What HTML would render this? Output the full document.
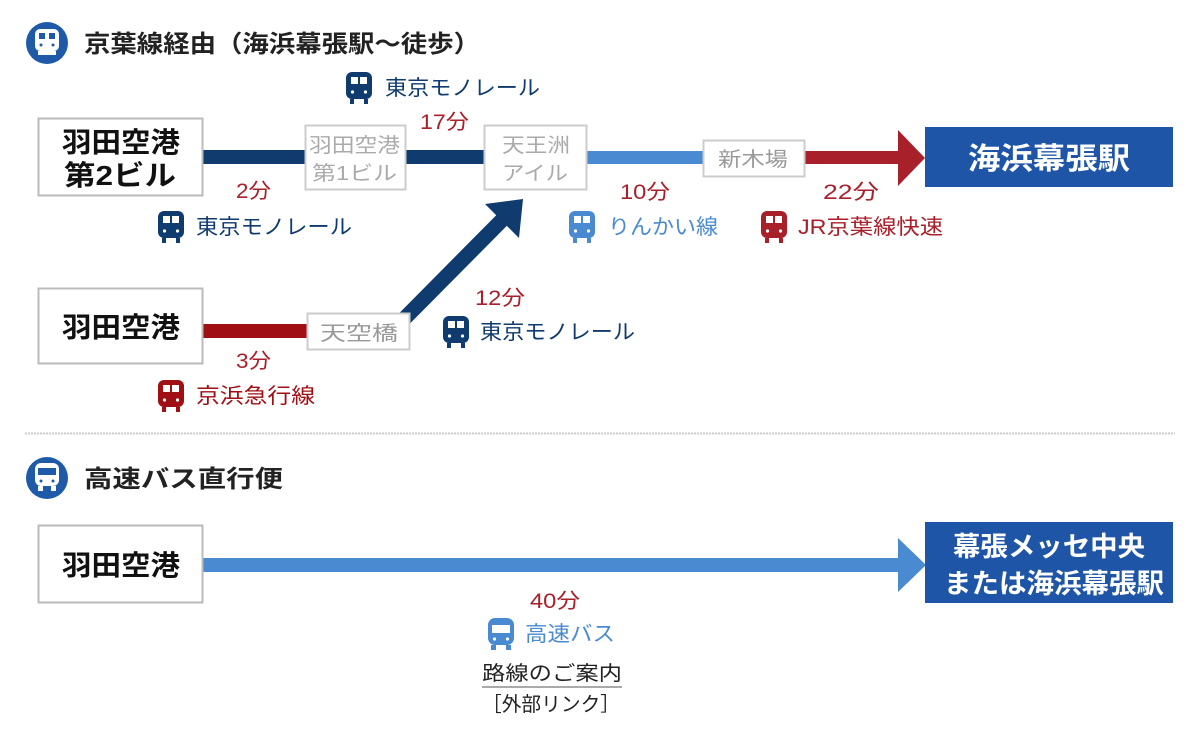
<!DOCTYPE html>
<html><head><meta charset="utf-8"><style>
html,body{margin:0;padding:0;background:#fff;width:1200px;height:735px;overflow:hidden}
svg{display:block}
text{font-family:"Liberation Sans","Noto Sans CJK JP",sans-serif}
</style></head><body>
<svg width="1200" height="735" viewBox="0 0 1200 735" xmlns="http://www.w3.org/2000/svg">
<defs>
<symbol id="tr" viewBox="0 0 26 32">
<rect x="0" y="0" width="26" height="27" rx="6"/>
<rect x="4" y="27" width="4" height="5"/><rect x="18" y="27" width="4" height="5"/>
<rect x="5" y="5" width="7" height="7" fill="#fff"/><rect x="14" y="5" width="7" height="7" fill="#fff"/>
<circle cx="6.5" cy="20" r="1.6" fill="#fff"/><circle cx="19.5" cy="20" r="1.6" fill="#fff"/>
</symbol>
<symbol id="bus" viewBox="0 0 26 32">
<rect x="0" y="0" width="26" height="27" rx="7"/>
<rect x="3" y="27" width="5" height="5"/><rect x="18" y="27" width="5" height="5"/>
<rect x="4" y="7" width="18" height="8" fill="#fff"/>
<circle cx="6.5" cy="21" r="1.6" fill="#fff"/><circle cx="19.5" cy="21" r="1.6" fill="#fff"/>
</symbol>
</defs>

<!-- header 1 -->
<circle cx="47" cy="43" r="21" fill="#1f5aa8"/>
<rect x="35" y="29" width="24" height="22" rx="5" fill="#fff"/>
<rect x="39" y="33" width="6" height="6" fill="#1f5aa8"/><rect x="49" y="33" width="6" height="6" fill="#1f5aa8"/>
<circle cx="41" cy="45" r="1.5" fill="#1f5aa8"/><circle cx="53" cy="45" r="1.5" fill="#1f5aa8"/>
<rect x="38" y="51" width="18" height="4" fill="#fff"/>
<text x="84" y="52" font-size="24" font-weight="bold" fill="#222" textLength="396" lengthAdjust="spacingAndGlyphs">京葉線経由（海浜幕張駅～徒歩）</text>

<!-- lines top -->
<rect x="203" y="150" width="102" height="14" fill="#0f3b6e"/>
<rect x="406" y="150" width="78" height="14" fill="#0f3b6e"/>
<rect x="587" y="151" width="116" height="13" fill="#4a8ad0"/>
<rect x="805" y="151" width="95" height="13" fill="#a8202a"/>
<polygon points="898,130 925,158 898,186" fill="#a8202a"/>

<!-- boxes top -->
<rect x="38.5" y="118.5" width="164" height="77" fill="#fff" stroke="#bbb" stroke-width="2"/>
<text x="62" y="152" font-size="28" font-weight="bold" fill="#111" textLength="118" lengthAdjust="spacingAndGlyphs">羽田空港</text>
<text x="64" y="185" font-size="28" font-weight="bold" fill="#111" textLength="112" lengthAdjust="spacingAndGlyphs">第2ビル</text>
<rect x="305.5" y="125.5" width="100" height="64" fill="#fff" stroke="#ccc" stroke-width="2"/>
<text x="309" y="152" font-size="20" fill="#aaa" textLength="91" lengthAdjust="spacingAndGlyphs">羽田空港</text>
<text x="312" y="180" font-size="20" fill="#aaa" textLength="85" lengthAdjust="spacingAndGlyphs">第1ビル</text>
<rect x="484.5" y="125.5" width="102" height="64" fill="#fff" stroke="#ccc" stroke-width="2"/>
<text x="502" y="152" font-size="20" fill="#aaa" textLength="68" lengthAdjust="spacingAndGlyphs">天王洲</text>
<text x="502" y="180" font-size="20" fill="#aaa" textLength="66" lengthAdjust="spacingAndGlyphs">アイル</text>
<rect x="703.5" y="140.5" width="101" height="36" fill="#fff" stroke="#ccc" stroke-width="2"/>
<text x="718" y="166" font-size="20" fill="#999" textLength="70" lengthAdjust="spacingAndGlyphs">新木場</text>
<rect x="925" y="127" width="248" height="60" fill="#1f55a6"/>
<text x="968" y="169" font-size="30" font-weight="bold" fill="#fff" textLength="162" lengthAdjust="spacingAndGlyphs">海浜幕張駅</text>

<!-- labels top -->
<use href="#tr" x="346" y="72" width="26" height="32" fill="#0f3b6e"/>
<text x="385" y="95" font-size="21" fill="#0f3b6e" textLength="155" lengthAdjust="spacingAndGlyphs">東京モノレール</text>
<text x="420" y="129" font-size="21" fill="#a8202a" textLength="49" lengthAdjust="spacingAndGlyphs">17分</text>
<text x="236" y="198" font-size="21" fill="#a8202a" textLength="35" lengthAdjust="spacingAndGlyphs">2分</text>
<use href="#tr" x="158" y="211" width="26" height="32" fill="#0f3b6e"/>
<text x="196" y="234" font-size="21" fill="#0f3b6e" textLength="156" lengthAdjust="spacingAndGlyphs">東京モノレール</text>
<text x="620" y="199" font-size="21" fill="#a8202a" textLength="50" lengthAdjust="spacingAndGlyphs">10分</text>
<use href="#tr" x="569" y="211" width="26" height="32" fill="#4a8ad0"/>
<text x="608" y="234" font-size="21" fill="#4a8ad0" textLength="110" lengthAdjust="spacingAndGlyphs">りんかい線</text>
<text x="823" y="199" font-size="21" fill="#a8202a" textLength="56" lengthAdjust="spacingAndGlyphs">22分</text>
<use href="#tr" x="761" y="211" width="26" height="32" fill="#a8202a"/>
<text x="798" y="234" font-size="21" fill="#a8202a" textLength="145" lengthAdjust="spacingAndGlyphs">JR京葉線快速</text>

<!-- lower route -->
<rect x="203" y="324" width="104" height="14" fill="#a00f14"/>
<line x1="398" y1="325" x2="506" y2="216" stroke="#0f3b6e" stroke-width="15"/>
<polygon points="485,204 523,199 519,238" fill="#0f3b6e"/>
<rect x="38.5" y="288.5" width="164" height="75" fill="#fff" stroke="#bbb" stroke-width="2"/>
<text x="62" y="337" font-size="28" font-weight="bold" fill="#111" textLength="118" lengthAdjust="spacingAndGlyphs">羽田空港</text>
<rect x="307.5" y="313.5" width="102" height="36" fill="#fff" stroke="#ccc" stroke-width="2"/>
<text x="320" y="340" font-size="20" fill="#999" textLength="78" lengthAdjust="spacingAndGlyphs">天空橋</text>
<text x="236" y="368" font-size="21" fill="#a8202a" textLength="35" lengthAdjust="spacingAndGlyphs">3分</text>
<use href="#tr" x="158" y="380" width="26" height="32" fill="#a00f14"/>
<text x="196" y="403" font-size="21" fill="#a00f14" textLength="119" lengthAdjust="spacingAndGlyphs">京浜急行線</text>
<text x="475" y="305" font-size="21" fill="#a8202a" textLength="50" lengthAdjust="spacingAndGlyphs">12分</text>
<use href="#tr" x="443" y="316" width="26" height="32" fill="#0f3b6e"/>
<text x="480" y="339" font-size="21" fill="#0f3b6e" textLength="155" lengthAdjust="spacingAndGlyphs">東京モノレール</text>

<!-- separator -->
<line x1="25" y1="433.5" x2="1175" y2="433.5" stroke="#ccc" stroke-width="2" stroke-dasharray="2,1"/>

<!-- header 2 -->
<circle cx="47" cy="478" r="21" fill="#1f5aa8"/>
<rect x="35" y="463" width="24" height="23" rx="6" fill="#fff"/>
<rect x="38" y="486" width="5" height="5" fill="#fff"/><rect x="51" y="486" width="5" height="5" fill="#fff"/>
<rect x="38" y="468" width="18" height="7" fill="#1f5aa8"/>
<circle cx="41" cy="481" r="1.5" fill="#1f5aa8"/><circle cx="53" cy="481" r="1.5" fill="#1f5aa8"/>
<text x="84" y="487" font-size="24" font-weight="bold" fill="#222" textLength="199" lengthAdjust="spacingAndGlyphs">高速バス直行便</text>

<!-- bus route -->
<rect x="203" y="558" width="697" height="14" fill="#4a8ad0"/>
<polygon points="898,538 926,565 898,592" fill="#4a8ad0"/>
<rect x="38.5" y="525.5" width="164" height="77" fill="#fff" stroke="#bbb" stroke-width="2"/>
<text x="62" y="575" font-size="28" font-weight="bold" fill="#111" textLength="118" lengthAdjust="spacingAndGlyphs">羽田空港</text>
<rect x="925" y="522" width="248" height="81" fill="#1f55a6"/>
<text x="953" y="556" font-size="27" font-weight="bold" fill="#fff" textLength="192" lengthAdjust="spacingAndGlyphs">幕張メッセ中央</text>
<text x="944" y="593" font-size="27" font-weight="bold" fill="#fff" textLength="220" lengthAdjust="spacingAndGlyphs">または海浜幕張駅</text>
<text x="530" y="608" font-size="21" fill="#a8202a" textLength="50" lengthAdjust="spacingAndGlyphs">40分</text>
<use href="#bus" x="488" y="618" width="26" height="32" fill="#4a8ad0"/>
<text x="525" y="641" font-size="21" fill="#4a8ad0" textLength="90" lengthAdjust="spacingAndGlyphs">高速バス</text>
<text x="482" y="680" font-size="20" fill="#222" textLength="140" lengthAdjust="spacingAndGlyphs">路線のご案内</text>
<rect x="482" y="686" width="140" height="2" fill="#aaa"/>
<text x="482" y="711" font-size="20" fill="#222" textLength="138" lengthAdjust="spacingAndGlyphs">［外部リンク］</text>
</svg>
</body></html>
